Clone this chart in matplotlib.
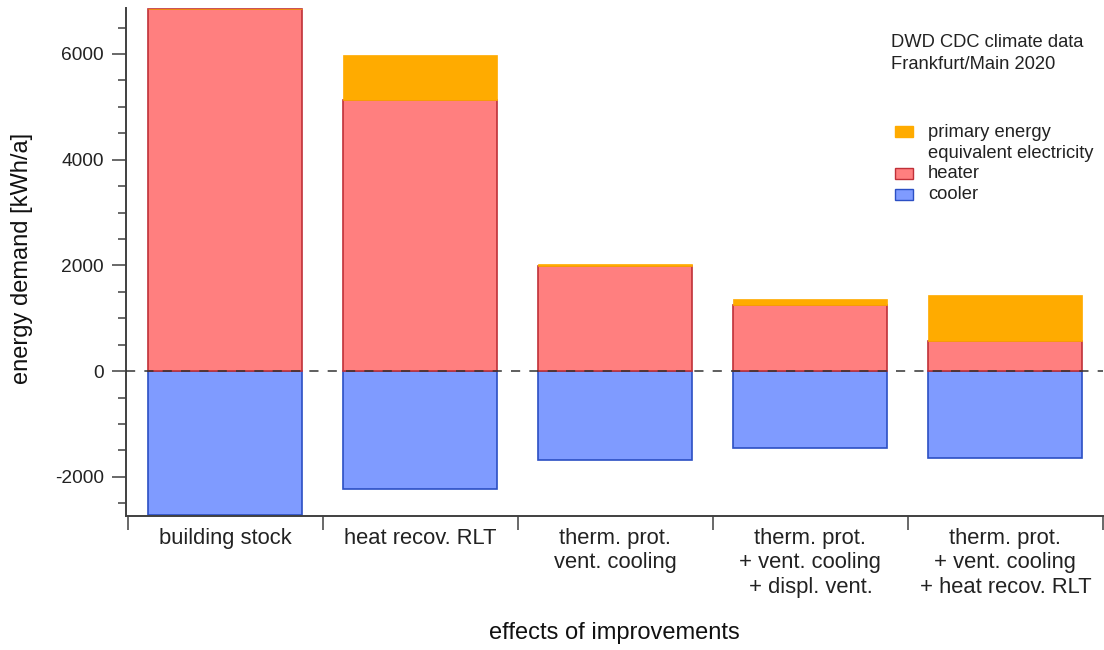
import matplotlib.pyplot as plt
import numpy as np
from matplotlib.ticker import MultipleLocator, FixedLocator, NullFormatter
from matplotlib.patches import Rectangle

# data (kWh/a)
categories=['building stock','heat recov. RLT','therm. prot.\nvent. cooling',
            'therm. prot.\n+ vent. cooling\n+ displ. vent.',
            'therm. prot.\n+ vent. cooling\n+ heat recov. RLT']
heater=[6850,5120,1980,1250,570]
primary=[0,870,50,110,870]
cooler=[-2720,-2230,-1680,-1460,-1640]

plt.rcParams['font.family']=['Liberation Sans','DejaVu Sans']
plt.rcParams['axes.unicode_minus']=False
fig=plt.figure(figsize=(11.04,6.5),dpi=100)
ax=fig.add_axes([0.1141,0.2062,0.8849,0.7815])

x=np.arange(len(categories))
w=0.79
ax.bar(x,cooler,width=w,color='#7f9bff',edgecolor='#2b4fc4',linewidth=1.2,zorder=2)
ax.bar(x,heater,width=w,color='#ff7f7f',edgecolor='#c03038',linewidth=1.2,zorder=2)
ax.bar(x,primary,width=w,bottom=heater,color='#ffab00',edgecolor='#ffab00',linewidth=0.5,zorder=2)
ax.axhline(0,color='#333333',linewidth=1.1,linestyle=(0,(6,6)),zorder=3)

ax.set_xlim(-0.51,4.5)
ax.set_ylim(-2740,6870)
ax.spines['top'].set_visible(False)
ax.spines['right'].set_visible(False)
for s in ['left','bottom']:
    ax.spines[s].set_color('#404040')
    ax.spines[s].set_linewidth(1.4)

ax.yaxis.set_major_locator(MultipleLocator(2000))
ax.yaxis.set_minor_locator(MultipleLocator(500))
ax.tick_params(axis='y',which='major',length=10,width=1.1,color='#404040',labelsize=13.8,labelcolor='#222222',pad=5.8)
ax.tick_params(axis='y',which='minor',length=5.8,width=1.1,color='#404040')

# category boundaries get the ticks, labels sit in the middle
ax.xaxis.set_major_locator(FixedLocator(np.arange(-0.5,5.0,1.0)))
ax.xaxis.set_major_formatter(NullFormatter())
ax.xaxis.set_minor_locator(FixedLocator(x))
ax.set_xticklabels(categories,minor=True,fontsize=15.8,color='#222222',linespacing=1.22,va='top')
ax.tick_params(axis='x',which='major',length=10,width=1.1,color='#404040')
ax.tick_params(axis='x',which='minor',length=0,pad=8.5)

fig.text(22/1104,0.603,'energy demand [kWh/a]',rotation=90,fontsize=17,color='#111111',ha='center',va='center')
fig.text(614.5/1104,0.026,'effects of improvements',fontsize=17,color='#111111',ha='center',va='center')

# annotation and legend, positions in axes fraction
def fy(py):
    return (516-py)/508.0
tx=(928-126)/977.0
ax.text(tx-0.0378,fy(43),'DWD CDC climate data',transform=ax.transAxes,fontsize=13.2,color='#222222',va='center',ha='left')
ax.text(tx-0.0378,fy(65),'Frankfurt/Main 2020',transform=ax.transAxes,fontsize=13.2,color='#222222',va='center',ha='left')
leg=[('#ffab00','#ffab00',137),('#ff7f7f','#c03038',179),('#7f9bff','#2b4fc4',200)]
for fc,ec,pb in leg:
    ax.add_patch(Rectangle(((895-126)/977.0,fy(pb)),0.0184,0.0217,transform=ax.transAxes,
                           facecolor=fc,edgecolor=ec,linewidth=1,clip_on=False))
for lab,py in [('primary energy',133),('equivalent electricity',154),('heater',174),('cooler',195)]:
    ax.text(tx,fy(py),lab,transform=ax.transAxes,fontsize=13.2,color='#222222',va='center',ha='left')

plt.savefig('out.png',dpi=100)
